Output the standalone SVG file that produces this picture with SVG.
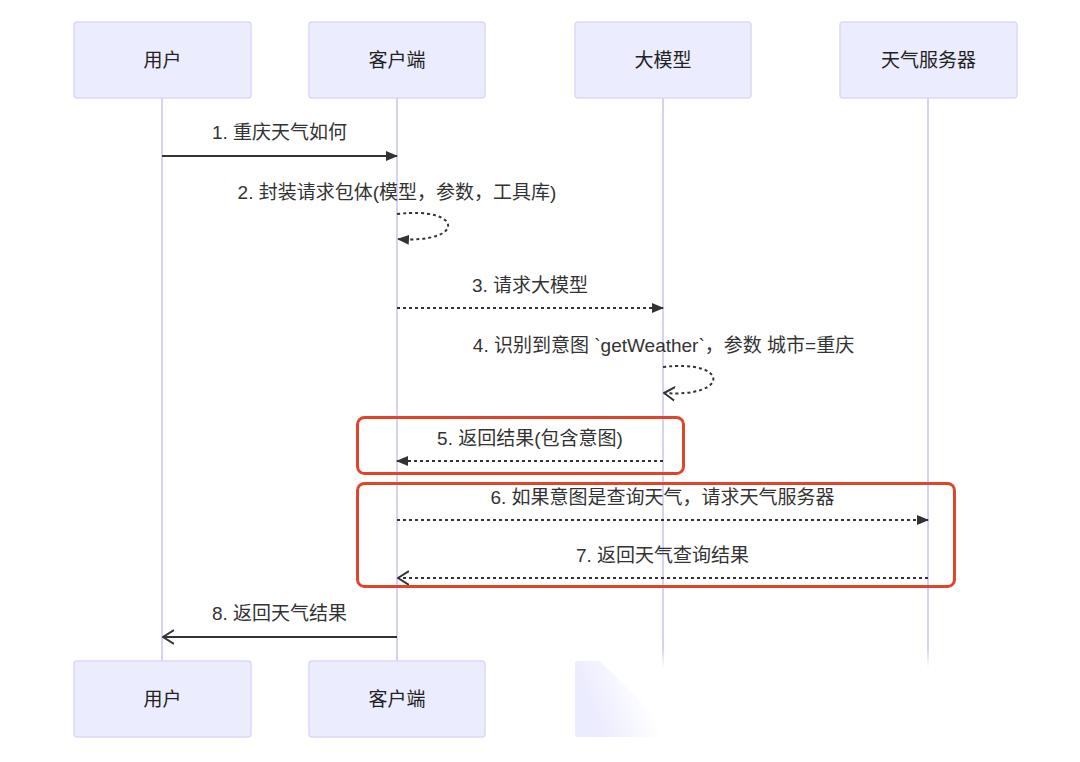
<svg xmlns="http://www.w3.org/2000/svg" width="1080" height="762" viewBox="0 0 1080 762">
<style>
.actor{fill:#ECECFF;stroke:#dcd8f7;stroke-width:1.5}
.atext{font-family:"Liberation Sans","Noto Sans CJK SC",sans-serif;font-size:19px;fill:#222;text-anchor:middle;dominant-baseline:central}
.life{stroke:#d6d2f4;stroke-width:2}
.mtext{font-family:"Liberation Sans","Noto Sans CJK SC",sans-serif;font-size:19px;fill:#333;text-anchor:middle;dominant-baseline:central}
.solid{stroke:#333;stroke-width:2;fill:none}
.dot{stroke:#333;stroke-width:2;fill:none;stroke-dasharray:3,3}
.hl{fill:none;stroke:#e0452b;stroke-width:3}
</style>
<defs>
<marker id="filled" viewBox="0 0 12 10" refX="11" refY="5" markerWidth="12" markerHeight="10" markerUnits="userSpaceOnUse" orient="auto">
<path d="M0,0 L12,5 L0,10 z" fill="#333"/>
</marker>
<marker id="open" viewBox="0 0 12 16" refX="11" refY="8" markerWidth="12" markerHeight="16" markerUnits="userSpaceOnUse" orient="auto">
<path d="M0,1 L11,8 L0,15" fill="none" stroke="#333" stroke-width="2"/>
</marker>
<linearGradient id="fade" gradientUnits="userSpaceOnUse" x1="590" y1="700" x2="640" y2="680">
<stop offset="0" stop-color="#ECECFF"/>
<stop offset="1" stop-color="#ECECFF" stop-opacity="0"/>
</linearGradient>
<linearGradient id="lfade" x1="0" y1="0" x2="0" y2="1">
<stop offset="0" stop-color="#d6d2f4"/>
<stop offset="1" stop-color="#d6d2f4" stop-opacity="0"/>
</linearGradient>
</defs>
<rect width="1080" height="762" fill="#fff"/>
<g id="lifelines">
<line class="life" x1="162" y1="98" x2="162" y2="661"/>
<line class="life" x1="397" y1="98" x2="397" y2="661"/>
<line class="life" x1="663" y1="98" x2="663" y2="648"/>
<line class="life" x1="928" y1="98" x2="928" y2="648"/>
<rect x="662" y="648" width="2" height="20" fill="url(#lfade)"/>
<rect x="927" y="648" width="2" height="20" fill="url(#lfade)"/>
</g>
<g id="actor-user-top"><rect class="actor" x="74" y="22" width="177" height="76" rx="3"/><text class="atext" x="162.5" y="60">用户</text></g>
<g id="actor-client-top"><rect class="actor" x="309" y="22" width="176" height="76" rx="3"/><text class="atext" x="397" y="60">客户端</text></g>
<g id="actor-llm-top"><rect class="actor" x="575" y="22" width="176" height="76" rx="3"/><text class="atext" x="663" y="60">大模型</text></g>
<g id="actor-weather-top"><rect class="actor" x="840" y="22" width="177" height="76" rx="3"/><text class="atext" x="928.5" y="60">天气服务器</text></g>
<g id="actor-user-bottom"><rect class="actor" x="74" y="661" width="177" height="76" rx="3"/><text class="atext" x="162.5" y="699">用户</text></g>
<g id="actor-client-bottom"><rect class="actor" x="309" y="661" width="176" height="76" rx="3"/><text class="atext" x="397" y="699">客户端</text></g>
<g id="actor-llm-bottom"><path d="M578,661 L600,661 L678,737 L578,737 Q575,737 575,734 L575,664 Q575,661 578,661 z" fill="url(#fade)"/></g>
<g id="connectors">
<text class="mtext" x="279.5" y="132">1. 重庆天气如何</text>
<line class="solid" x1="162" y1="156" x2="397" y2="156" marker-end="url(#filled)"/>
<text class="mtext" x="397" y="192">2. 封装请求包体(模型，参数，工具库)</text>
<path class="dot" d="M397,214 C464,206 466,244 398,239" marker-end="url(#filled)"/>
<text class="mtext" x="530" y="285">3. 请求大模型</text>
<line class="dot" x1="397" y1="308" x2="663" y2="308" marker-end="url(#filled)"/>
<text class="mtext" x="663.5" y="345">4. 识别到意图 `getWeather`，参数 城市=重庆</text>
<path class="dot" d="M663,367 C730,359 730,398 664,393" marker-end="url(#open)"/>
<text class="mtext" x="530" y="438">5. 返回结果(包含意图)</text>
<line class="dot" x1="663" y1="461" x2="397" y2="461" marker-end="url(#filled)"/>
<text class="mtext" x="662.5" y="497">6. 如果意图是查询天气，请求天气服务器</text>
<line class="dot" x1="397" y1="520" x2="928" y2="520" marker-end="url(#filled)"/>
<text class="mtext" x="662.5" y="555">7. 返回天气查询结果</text>
<line class="dot" x1="928" y1="578" x2="398" y2="578" marker-end="url(#open)"/>
<text class="mtext" x="279.5" y="613">8. 返回天气结果</text>
<line class="solid" x1="397" y1="637" x2="163" y2="637" marker-end="url(#open)"/>
</g>
<g id="highlights">
<rect class="hl" x="357.5" y="417.5" width="326" height="56" rx="7"/>
<rect class="hl" x="357.5" y="483.5" width="597" height="103" rx="7"/>
</g>
</svg>
